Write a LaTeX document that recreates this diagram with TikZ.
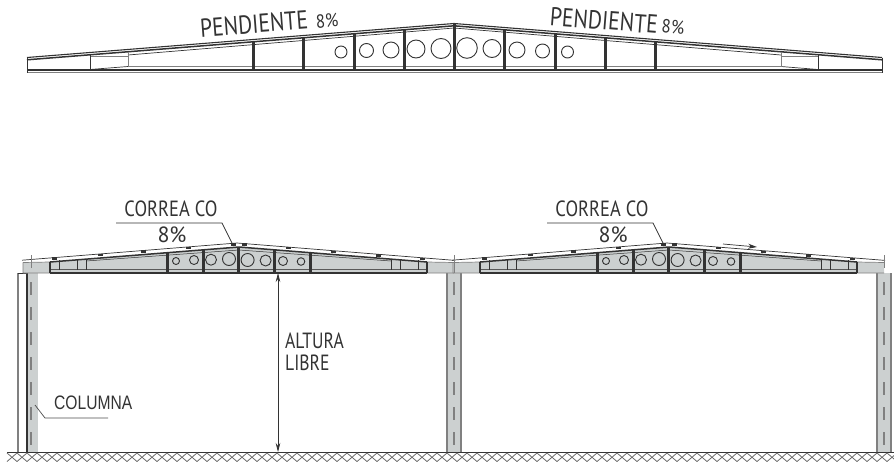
\documentclass[tikz,border=0pt]{standalone}
\usepackage{fontspec}
\setmainfont{PT Sans}
\newfontfamily\arialfont{Liberation Sans}
\usetikzlibrary{arrows.meta,positioning}
\definecolor{webgray}{HTML}{CCD0D0}
\definecolor{inkdark}{HTML}{333333}
\newcommand{\squeezed}[2]{\scalebox{#1}[1]{#2}}
\tikzset{
  thinline/.style={draw=inkdark,line width=0.7pt},
  stiffener/.style={draw=inkdark,line width=3pt},
  label/.style={inner sep=0pt,text=inkdark},
  bigtext/.style={label,font=\fontsize{26}{28}\selectfont},
  pcttext/.style={label,font=\fontsize{19}{21}\selectfont},
  midtext/.style={label,font=\fontsize{22}{22}\selectfont,align=left},
  leader/.style={draw=inkdark,line width=0.7pt},
  holeline/.style={draw=inkdark,line width=0.9pt},
}
\begin{document}
\begin{tikzpicture}[x=1pt,y=-1pt]
\useasboundingbox (0,0) rectangle (894,464);

% top beam
\draw[thinline,line width=1.1pt] (27,57.5) -- (454,23.5) -- (882,57.5);
\draw[thinline,line width=1.5pt] (27,59.8) -- (454,25.8) -- (882,59.8);
\draw[thinline] (128,55) -- (454,28) -- (781,55);
\draw[thinline,draw=gray,line width=1pt] (90,56) -- (128,56) (781,56) -- (818,56);
\draw[thinline,draw=gray] (128,66.5) -- (781,66.5);
\draw[thinline] (90,69.5) -- (128,66.5) (781,66.5) -- (818,69.5);
\draw[thinline,line width=1.5pt] (27,70) -- (882,70);
\draw[thinline,draw=gray] (27,72.8) -- (882,72.8);
\draw[thinline] (27,57.5) -- (27,73) (882,57.5) -- (882,73);
\draw[thinline] (90,54.5) -- (90,70) (818.5,54.5) -- (818.5,70);
\draw[thinline,draw=gray,line width=1pt] (128,52) -- (128,67) (781,52) -- (781,67);
\foreach \x/\ytop in {253.5/41,303.5/37,354/33,404/29,454/24,504.5/29,555/33,605/37,655/41}
  \draw[stiffener] (\x,\ytop) -- (\x,70);
\foreach \x/\y/\r in {341/52/6,366.5/50.5/7,391/50/8,416/49/9,441/48.5/10,467/48/10.3,492/48.5/9,517/50/8,542.5/51/7,567.5/52/6}
  \draw[holeline] (\x,\y) circle (\r);
\node[bigtext,rotate=4.4] (slopeleft) at (254,24) {\squeezed{.83}{PENDIENTE}};
\node[pcttext,rotate=4.4] (pctleft) at (327,21) {\squeezed{.9}{8\%}};
\node[bigtext,rotate=-4.6] (sloperight) at (604,20.5) {\squeezed{.83}{PENDIENTE}};
\node[pcttext,rotate=-4.6] (pctright) at (673,27) {\squeezed{.9}{8\%}};

% columns
\fill[webgray] (27,273) rectangle (38,452);
\fill[webgray] (447,273) rectangle (461,452);
\fill[webgray] (877,273) rectangle (891,452);
\draw[thinline,draw=gray,line width=1.2pt] (18,273) -- (18,452);
\draw[thinline,line width=1.1pt] (27,273) -- (27,452);
\draw[thinline,draw=gray,line width=1.2pt] (447,273) -- (447,452) (461,273) -- (461,452)
  (877,273) -- (877,452) (891,273) -- (891,452);
\draw[thinline] (18,273) -- (27,273);
\foreach \x in {31,454,884}
  \draw[thinline,draw=gray,line width=1.1pt,dash pattern=on 13pt off 12pt] (\x,282) -- (\x,452);

% frames
\foreach \ox in {0,430}{
\begin{scope}[xshift=\ox]
  \fill[webgray] (23,262.5) -- (50,262) -- (239,247) -- (427,262) -- (454,262.5) -- (454,273) -- (23,273) -- cycle;
  \draw[thinline,draw=gray] (23,262.5) -- (50,262) (427,262) -- (454,262.5) (23,262.5) -- (23,273) (23,273) -- (50,273) (427,273) -- (454,273);
  \draw[thinline] (22,260.2) -- (237,243) -- (455,260.4);
  \draw[thinline,line width=1.5pt] (50,262) -- (239,247) -- (427,262);
  \draw[thinline,line width=0.5pt] (86,261) -- (239,250) -- (391,261);
  \draw[thinline,line width=1.6pt] (50,273) -- (427,273);
  \draw[thinline,draw=gray!70!black,line width=1pt] (50,269.5) -- (427,269.5);
  \draw[thinline,line width=1.2pt] (50,262) -- (50,273) (427,262) -- (427,273);
  \foreach \x in {59,77.5,86,391,400,418}
    \draw[thinline] (\x,260) -- (\x,270);
  \foreach \x/\ytop in {167/253,203/250,238.5/247,274.3/250,310/253}
    \draw[stiffener] (\x,\ytop) -- (\x,272);
  \foreach \x/\y/\r in {176/261/3.5,194/260/4.5,211/259.7/5.5,229/259/6.5,247.6/260/6.5,265.6/260.5/5.5,283/261/4.5,301/261.5/3.8}
    \draw[holeline,fill=webgray] (\x,\y) circle (\r);
  \foreach \x/\y in {54/258.5,100/255,143/251.5,188/248,233/244.3,244/244.6,288/248.2,333/251.8,378/255.4,422/259}
    \fill[inkdark] (\x-2.5,\y-1.2) rectangle (\x+2.5,\y+1.2);
\end{scope}
}
\draw[thinline,draw=gray] (31,255) -- (31,268) (454,255) -- (454,273) (884,255) -- (884,268);

% labels of the frames
\node[midtext] (purlinleft) at (171,209) {\squeezed{.84}{CORREA CO}};
\node[midtext] (pctframeleft) at (172,235) {8\%};
\node[midtext] (purlinright) at (602,209) {\squeezed{.84}{CORREA CO}};
\node[midtext] (pctframeright) at (613,235) {8\%};
\coordinate (lineleft) at (116,223);
\coordinate (bendleft) at (222,223);
\coordinate (tipleft) at (232,243);
\coordinate (lineright) at (547,223);
\coordinate (bendright) at (653,223);
\coordinate (tipright) at (663,243);
\draw[leader] (lineleft) -- (bendleft) -- (tipleft);
\draw[leader] (lineright) -- (bendright) -- (tipright);
\coordinate (flowstart) at (723,244);
\coordinate (flowend) at (757,247);
\draw[leader,-{Stealth[length=9pt,width=5pt]}] (flowstart) -- (flowend);

% free height
\coordinate (freetop) at (278,273);
\coordinate (freebottom) at (278,452);
\draw[leader,{Stealth[length=9pt,width=4.5pt]}-{Stealth[length=9pt,width=4.5pt]}] (freetop) -- (freebottom);
\node[midtext,anchor=north west] (freeheight) at (285,333) {\squeezed{.8}{ALTURA}\\\squeezed{.8}{LIBRE}};

% column label
\node[label,font=\arialfont\fontsize{19.5}{21}\selectfont,anchor=west] (columnlabel) at (54,403) {\squeezed{.8}{COLUMNA}};
\coordinate (columnline) at (108,418);
\coordinate (columnbend) at (45,418);
\coordinate (columntip) at (35,405);
\draw[leader,draw=gray!60!black] (columnline) -- (columnbend) -- (columntip);

% ground
\draw[thinline,line width=1.2pt] (7,452.5) -- (894,452.5);
\foreach \x in {7,17,...,887}
  \draw[draw=gray!85!black,line width=0.8pt] (\x,453) -- (\x+10,461.5) (\x+10,453) -- (\x,461.5);
\end{tikzpicture}
\end{document}
